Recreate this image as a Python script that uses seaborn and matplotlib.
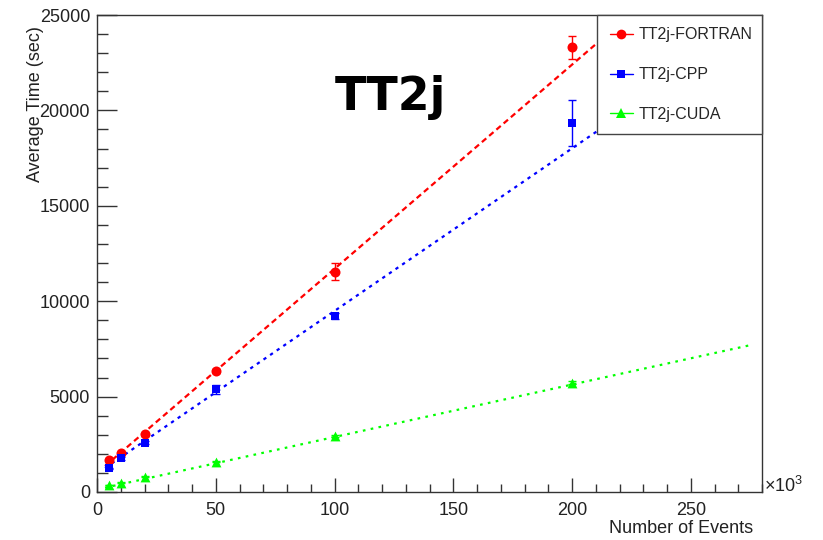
import numpy as np
import pandas as pd
import matplotlib
matplotlib.use("Agg")
import matplotlib.pyplot as plt
from matplotlib.lines import Line2D
from matplotlib.ticker import MultipleLocator
import seaborn as sns

# ---------------- data ----------------
series_names = ["TT2j-FORTRAN", "TT2j-CPP", "TT2j-CUDA"]
events_k = [5, 10, 20, 50, 100, 200]          # Number of events (x10^3)

fortran_time = [1680, 2030, 3020, 6340, 11550, 23300]
fortran_err = [50, 60, 90, 120, 430, 600]

cpp_time = [1240, 1760, 2590, 5380, 9230, 19330]
cpp_err = [40, 60, 80, 250, 150, 1210]

cuda_time = [370, 490, 800, 1590, 2940, 5720]
cuda_err = [20, 20, 30, 40, 50, 80]

# linear fit parameters (intercept, slope)
fit_intercept = [997, 968, 132]
fit_slope = [107.0, 85.2, 27.5]
fit_range = (3.4, 275.4)

colors = {"TT2j-FORTRAN": "#ff0000", "TT2j-CPP": "#0000ff", "TT2j-CUDA": "#00ff00"}
markers = {"TT2j-FORTRAN": "o", "TT2j-CPP": "s", "TT2j-CUDA": "^"}
marker_area = {"TT2j-FORTRAN": 52, "TT2j-CPP": 34, "TT2j-CUDA": 50}
dash_styles = {"TT2j-FORTRAN": (2.6, 1.7), "TT2j-CPP": (1.5, 2.1), "TT2j-CUDA": (1.2, 2.4)}

times = [fortran_time, cpp_time, cuda_time]
errs = [fortran_err, cpp_err, cuda_err]

rows = []
for name, t, e in zip(series_names, times, errs):
    for x, y, ee in zip(events_k, t, e):
        rows.append({"series": name, "events": x, "time": y, "err": ee})
df = pd.DataFrame(rows)

xs = np.linspace(fit_range[0], fit_range[1], 300)
fit_rows = []
for name, a, b in zip(series_names, fit_intercept, fit_slope):
    for x in xs:
        fit_rows.append({"series": name, "events": x, "time": a + b * x})
fit_df = pd.DataFrame(fit_rows)

# ---------------- style ----------------
sns.set_style("white")
plt.rcParams["font.family"] = ["Liberation Sans", "DejaVu Sans"]
plt.rcParams["mathtext.fontset"] = "custom"
plt.rcParams["mathtext.rm"] = "Liberation Sans"
plt.rcParams["mathtext.it"] = "Liberation Sans:italic"

fig = plt.figure(figsize=(8.23, 5.40), dpi=100)
W, H = 823, 540
ax = fig.add_axes([97 / W, 48 / H, 665 / W, 477 / H])

# fit lines
sns.lineplot(data=fit_df, x="events", y="time", hue="series", style="series",
             palette=colors, dashes=dash_styles, linewidth=1.6, legend=False,
             estimator=None, sort=False, ax=ax, zorder=2)

# error bars
for name in series_names:
    sub = df[df.series == name]
    ax.errorbar(sub.events, sub.time, yerr=sub.err, fmt="none", ecolor=colors[name],
                elinewidth=1.0, capsize=2.6, capthick=1.0, zorder=3)

# markers
for name in series_names:
    sub = df[df.series == name]
    sns.scatterplot(data=sub, x="events", y="time", color=colors[name],
                    marker=markers[name], s=marker_area[name], linewidth=0,
                    legend=False, ax=ax, zorder=4)

ax.set_xlim(0, 280)
ax.set_ylim(0, 25000)
ax.set_xlabel("")
ax.set_ylabel("")

ax.xaxis.set_major_locator(MultipleLocator(50))
ax.xaxis.set_minor_locator(MultipleLocator(10))
ax.yaxis.set_major_locator(MultipleLocator(5000))
ax.yaxis.set_minor_locator(MultipleLocator(1000))

ax.tick_params(axis="x", which="major", direction="in", length=10, width=1,
               color="#333333", labelsize=13, labelcolor="#222222", pad=7,
               bottom=True, top=False)
ax.tick_params(axis="x", which="minor", direction="in", length=5.8, width=1,
               color="#333333", bottom=True, top=False)
ax.tick_params(axis="y", which="major", direction="in", length=14.4, width=1,
               color="#333333", labelsize=13, labelcolor="#222222", pad=5,
               left=True, right=False)
ax.tick_params(axis="y", which="minor", direction="in", length=8, width=1,
               color="#333333", left=True, right=False)

for sp in ax.spines.values():
    sp.set_color("#333333")
    sp.set_linewidth(1.0)

# legend
handles = [Line2D([0], [0], color=colors[n], lw=1.0, marker=markers[n],
                  markersize={"TT2j-FORTRAN": 7, "TT2j-CPP": 6, "TT2j-CUDA": 6.5}[n],
                  markeredgewidth=0)
           for n in series_names]
leg = ax.legend(handles, series_names, loc="upper left",
                bbox_to_anchor=(0.752, 0.7505, 0.248, 0.2495), mode="expand",
                borderaxespad=0, fontsize=11.5, frameon=True, fancybox=False,
                framealpha=1, edgecolor="#444444", borderpad=0.78,
                labelspacing=1.55, handlelength=1.45, handletextpad=0.4,
                numpoints=1)
leg.get_frame().set_linewidth(1.0)
leg.set_zorder(10)

# texts
fig.text(390 / W, (H - 110) / H, "TT2j", fontsize=33, fontweight="bold",
         family=["DejaVu Sans"], ha="center", va="baseline", color="black")
fig.text(36 / W, (H - 26) / H, "Average Time (sec)", rotation=90, fontsize=13,
         ha="center", va="top", color="#222222")
fig.text(753 / W, (H - 533) / H, "Number of Events", fontsize=13,
         ha="right", va="baseline", color="#222222")
fig.text(764 / W, (H - 492) / H, r"×10$^{3}$", fontsize=13,
         ha="left", va="baseline", color="#222222")

fig.savefig("out.png", dpi=100, facecolor="white")
